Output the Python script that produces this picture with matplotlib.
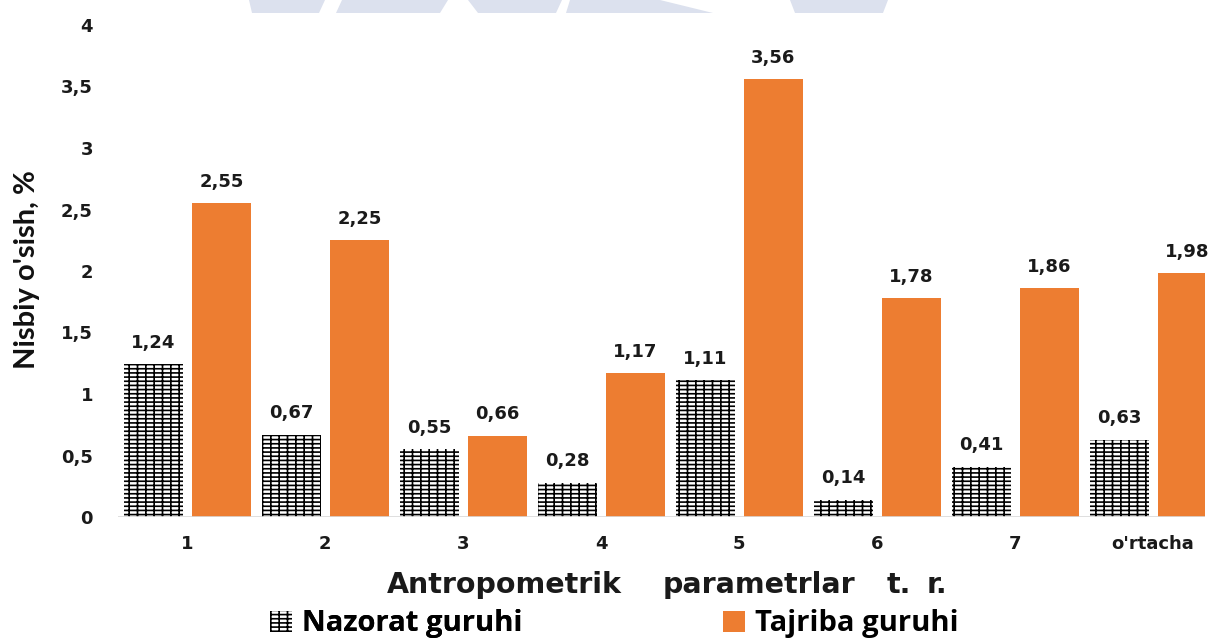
import matplotlib
matplotlib.use("Agg")
import matplotlib.pyplot as plt
import numpy as np
from matplotlib.patches import Patch, Polygon

categories = ["1", "2", "3", "4", "5", "6", "7", "o'rtacha"]
nazorat = [1.24, 0.67, 0.55, 0.28, 1.11, 0.14, 0.41, 0.63]
tajriba = [2.55, 2.25, 0.66, 1.17, 3.56, 1.78, 1.86, 1.98]
yticks = [0, 0.5, 1, 1.5, 2, 2.5, 3, 3.5, 4]
series_names = ["Nazorat guruhi", "Tajriba guruhi"]
xlabel_words = ["Antropometrik", "parametrlar", "t.", "r."]

def fmt(v):
    s = f"{v:g}"
    return s.replace(".", ",")

plt.rcParams['hatch.linewidth'] = 1.2
orange = "#ED7D31"
txt = "#1a1a1a"
W, H = 1216, 639

fig = plt.figure(figsize=(W / 100, H / 100), dpi=100)

# faint watermark shapes at the top edge (background decoration)
wm = "#DCE1EE"
for pts in [
    [(249, 0), (325, 0), (319, 13), (252, 13)],
    [(342, 0), (448, 0), (440, 13), (336, 13)],
    [(468, 0), (562, 0), (556, 13), (478, 13)],
    [(570, 0), (660, 0), (713, 13), (566, 13)],
    [(790, 0), (888, 0), (883, 13), (795, 13)],
]:
    fig.patches.append(Polygon([(x / W, 1 - y / H) for x, y in pts],
                               closed=True, transform=fig.transFigure,
                               facecolor=wm, edgecolor="none", zorder=0))

right_px = 1205
ax = fig.add_axes([118 / W, 122 / H, (right_px - 118) / W, (517 - 25) / H])
ax.patch.set_alpha(0)

x = np.arange(len(categories))
w = 0.43
ax.bar(x - 0.245, nazorat, w, facecolor="white", edgecolor="black",
       linewidth=0, hatch="||----")
ax.bar(x + 0.25, tajriba, w, color=orange, linewidth=0)

lab_kw = dict(textcoords="offset points", ha="center", va="bottom",
              fontsize=13, fontweight="bold", family="DejaVu Sans", color=txt,
              annotation_clip=False)
for xi, v in zip(x - 0.245, nazorat):
    ax.annotate(fmt(v), (xi, v), xytext=(0, 9), **lab_kw)
for xi, v in zip(x + 0.25, tajriba):
    ax.annotate(fmt(v), (xi, v), xytext=(0, 9), **lab_kw)

ax.set_xlim(-0.5, (right_px - 187) / 138)
ax.set_ylim(0, 4)
ax.set_yticks(yticks)
ax.set_yticklabels([fmt(t) for t in yticks], fontsize=13, fontweight="bold",
                   color=txt)
ax.set_xticks(x)
ax.set_xticklabels(categories, fontsize=13, fontweight="bold", color=txt)
ax.tick_params(axis="both", length=0)
ax.tick_params(axis="y", pad=18)
ax.tick_params(axis="x", pad=13)
for s in ax.spines.values():
    s.set_visible(False)
ax.axhline(0, color="#d9d9d9", linewidth=1.2)

# x axis title (words spaced as in the reference)
for word, xl in zip(xlabel_words, [387, 663, 887, 927]):
    fig.text(xl / W, 1 - 593 / H, word, ha="left", va="baseline",
             fontsize=20.5, fontweight="bold", family="DejaVu Sans", color=txt)

fig.text(27 / W, 1 - 270 / H, "Nisbiy o'sish, %", rotation=90,
         ha="center", va="center", fontsize=21, fontweight="bold",
         family=["Liberation Sans Narrow", "Lato"], color="#111111")

# legend
h1 = Patch(facecolor="white", edgecolor="black", linewidth=0, hatch="||----")
h2 = Patch(facecolor=orange, linewidth=0)
leg_kw = dict(loc="center left", frameon=False, borderpad=0, borderaxespad=0,
              prop={"family": "Open Sans", "weight": "bold", "size": 21},
              handlelength=0.75, handleheight=0.75, handletextpad=0.35)
leg1 = fig.legend([h1], [series_names[0]],
                  bbox_to_anchor=(270 / W, 1 - 624 / H), **leg_kw)
fig.add_artist(leg1)
fig.legend([h2], [series_names[1]],
           bbox_to_anchor=(723 / W, 1 - 624 / H), **leg_kw)

fig.savefig("out.png", dpi=100)
